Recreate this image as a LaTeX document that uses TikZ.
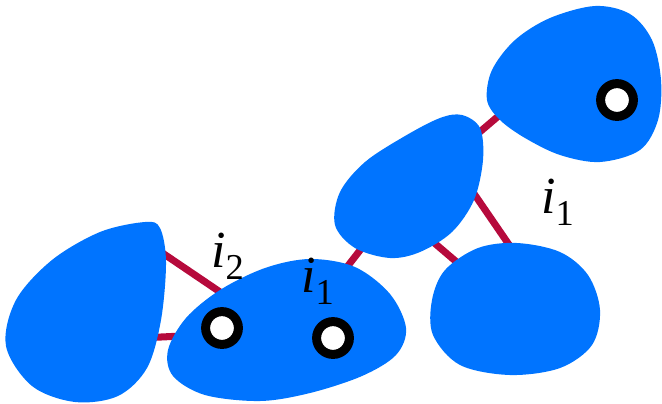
\documentclass[tikz,border=0pt]{standalone}
\usepackage{fontspec}
\setmainfont{Liberation Serif}
\usepackage{tikz}
\usetikzlibrary{positioning, calc}
\definecolor{BlobBlue}{RGB}{0,116,255}
\definecolor{LinkRed}{RGB}{182,10,60}

\begin{document}
\begin{tikzpicture}[x=0.025cm, y=-0.025cm,
	blob/.style={fill=BlobBlue, draw=none},
	link/.style={draw=LinkRed, line width=5pt},
	hole/.style={circle, draw=black, fill=white, line width=6.4pt, minimum size=0.82cm, inner sep=0pt},
	lbl/.style={anchor=base west, inner sep=0pt, font=\fontsize{37}{42}\selectfont}]
	\useasboundingbox (0,0) rectangle (662,403);
	% puntos de enlace
	\coordinate (a1) at (140,338); \coordinate (b1) at (182,336);
	\coordinate (a2) at (158,250); \coordinate (b2) at (226,296);
	\coordinate (b3) at (340,276); \coordinate (c3) at (368,240);
	\coordinate (c4) at (425,235); \coordinate (d4) at (466,270);
	\coordinate (c5) at (466,182); \coordinate (d5) at (514,252);
	\coordinate (c6) at (468,142); \coordinate (e6) at (502,113);
	\foreach \u/\v in {a1/b1, a2/b2, b3/c3, c4/d4, c5/d5, c6/e6}
		{\draw[link] (\u) -- (\v);}
	% manchas
	\fill[blob] plot[smooth cycle, tension=0.55] coordinates {(160,228) (166,262) (161,320) (147,368)
		(118,396) (75,402) (32,386) (6,346) (16,300) (52,260) (100,232) (145,222)};
	\fill[blob] plot[smooth cycle, tension=0.55] coordinates {(168,350) (186,318) (220,290) (265,268)
		(310,259) (355,267) (390,294) (406,328) (396,355) (362,376) (310,393) (260,401) (205,395) (173,376)};
	\fill[blob] plot[smooth cycle, tension=0.55] coordinates {(462,115) (480,128) (483,160) (474,200)
		(452,232) (420,252) (390,258) (355,248) (335,225) (340,192) (365,162) (405,136) (440,118)};
	\fill[blob] plot[smooth cycle, tension=0.55] coordinates {(517,243) (560,252) (588,275) (600,310)
		(592,345) (560,368) (510,375) (460,365) (433,335) (432,300) (445,270) (478,248)};
	\fill[blob] plot[smooth cycle, tension=0.55] coordinates {(487,100) (492,70) (515,40) (550,18)
		(595,6) (630,14) (652,40) (661,80) (658,120) (640,150) (600,162) (560,155) (525,138) (500,120)};
	% agujeros
	\foreach \n/\p in {h1/{(222,328)}, h2/{(333,338)}, h3/{(617,100)}}
		{\node[hole] (\n) at \p {};}
	% etiquetas
	\node[lbl] (lab2) at (211,267) {\textit{i}\textsubscript{2}};
	\node[lbl] (lab1) at (301,292) {\textit{i}\textsubscript{1}};
	\node[lbl] (lab3) at (541,213) {\textit{i}\textsubscript{1}};
\end{tikzpicture}
\end{document}
